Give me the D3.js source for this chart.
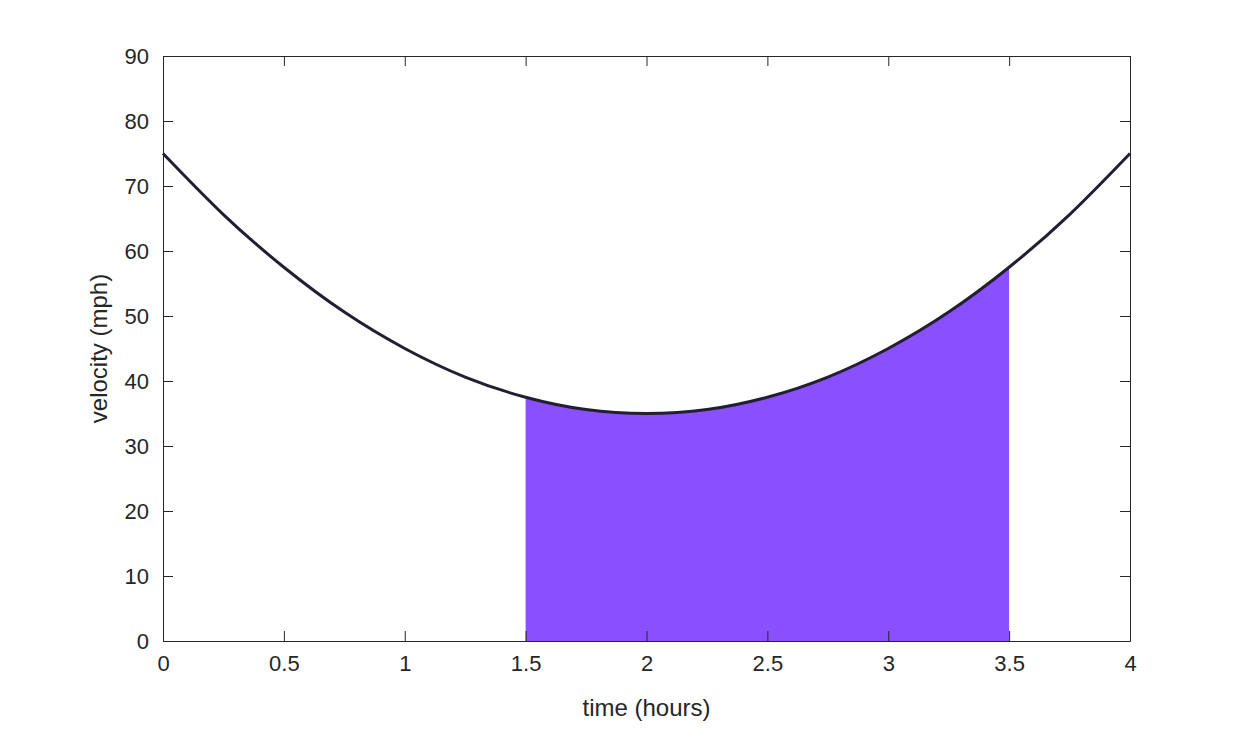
<!DOCTYPE html>
<html><head><meta charset="utf-8">
<script src="https://cdn.jsdelivr.net/npm/d3@7"></script>
<style>body{margin:0;background:#fff;} text{font-family:"Liberation Sans",Arial,sans-serif;fill:#262626;}</style>
</head><body><div id="chart"></div>
<script>
// values
const times = [0, 0.25, 0.5, 0.75, 1, 1.25, 1.5, 1.75, 2, 2.25, 2.5, 2.75, 3, 3.25, 3.5, 3.75, 4];
const velocity = [75, 65.6, 57.5, 50.6, 45, 40.6, 37.5, 35.6, 35, 35.6, 37.5, 40.6, 45, 50.6, 57.5, 65.6, 75];
const shadeFrom = 1.5, shadeTo = 3.5;
const xTicks = [0, 0.5, 1, 1.5, 2, 2.5, 3, 3.5, 4];
const yTicks = [0, 10, 20, 30, 40, 50, 60, 70, 80, 90];

const W = 1250, H = 731;
const margin = {top: 56, right: 120, bottom: 90, left: 163};
const svg = d3.select("#chart").append("svg").attr("width", W).attr("height", H);

const x = d3.scaleLinear().domain([0, 4]).range([margin.left, W - margin.right]);
const y = d3.scaleLinear().domain([0, 90]).range([H - margin.bottom, margin.top]);

const pts = times.map((t, i) => ({t, v: velocity[i]}));
const shaded = pts.filter(d => d.t >= shadeFrom && d.t <= shadeTo);

// shaded area
svg.append("path").datum(shaded)
  .attr("d", d3.area().x(d => x(d.t)).y0(y(0)).y1(d => y(d.v)).curve(d3.curveNatural))
  .attr("fill", "#8b50fd");

// curve
svg.append("path").datum(pts)
  .attr("d", d3.line().x(d => x(d.t)).y(d => y(d.v)).curve(d3.curveNatural))
  .attr("fill", "none").attr("stroke", "#231f33").attr("stroke-width", 3);

// axes with inward ticks, box style
const fmt = d => String(d);
const axes = [
  svg.append("g").attr("transform", `translate(0,${y(0)})`).call(d3.axisBottom(x).tickValues(xTicks).tickFormat(fmt).tickSizeInner(-10).tickSizeOuter(0).tickPadding(14)),
  svg.append("g").attr("transform", `translate(0,${y(90)})`).call(d3.axisTop(x).tickValues(xTicks).tickFormat("").tickSizeInner(-10).tickSizeOuter(0)),
  svg.append("g").attr("transform", `translate(${x(0)},0)`).call(d3.axisLeft(y).tickValues(yTicks).tickFormat(fmt).tickSizeInner(-10).tickSizeOuter(0).tickPadding(14)),
  svg.append("g").attr("transform", `translate(${x(4)},0)`).call(d3.axisRight(y).tickValues(yTicks).tickFormat("").tickSizeInner(-10).tickSizeOuter(0))
];
axes.forEach(g => {
  g.select(".domain").attr("stroke", "#262626");
  g.selectAll(".tick line").attr("stroke", "#262626");
  g.selectAll(".tick text").style("font-size", "22px").attr("fill", "#262626");
});

svg.append("text").attr("x", (x(0) + x(4)) / 2).attr("y", H - 15)
  .attr("text-anchor", "middle").style("font-size", "24px").text("time (hours)");
svg.append("text").attr("transform", `translate(107,${(y(0) + y(90)) / 2}) rotate(-90)`)
  .attr("text-anchor", "middle").style("font-size", "24px").text("velocity (mph)");
</script>
</body></html>
